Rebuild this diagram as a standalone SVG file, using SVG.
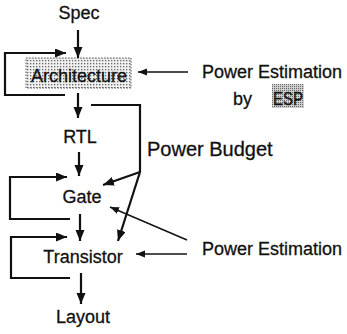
<svg xmlns="http://www.w3.org/2000/svg" width="347" height="334" viewBox="0 0 347 334">
<style>
text{font-family:"Liberation Sans",Arial,Helvetica,sans-serif;font-size:18px;fill:#111;stroke:#111;stroke-width:0.3}
.c{text-anchor:middle}
.w{fill:none;stroke:#111;stroke-width:2.2}
.t{fill:none;stroke:#111;stroke-width:1.4}
</style>
<defs>
<marker id="ah" markerUnits="userSpaceOnUse" markerWidth="12" markerHeight="10" refX="11" refY="4.5" orient="auto">
<path d="M0,0 L11,4.5 L0,9 z" fill="#111"/>
</marker>
<marker id="as" markerUnits="userSpaceOnUse" markerWidth="10" markerHeight="8" refX="9" refY="3.5" orient="auto">
<path d="M0,0 L9,3.5 L0,7 z" fill="#111"/>
</marker>
<pattern id="dots" width="3" height="3" patternUnits="userSpaceOnUse">
<rect width="3" height="3" fill="#f0f0f0"/>
<rect x="0" y="0" width="1.3" height="1.3" fill="#666"/>
</pattern>
<pattern id="dense" width="2" height="2" patternUnits="userSpaceOnUse">
<rect width="2" height="2" fill="#cfcfcf"/>
<rect x="0" y="0" width="1" height="1" fill="#666"/>
</pattern>
</defs>
<g id="spec"><text class="c" x="79" y="19">Spec</text></g>
<g id="architecture">
<rect x="26" y="58" width="105" height="30" fill="url(#dots)" stroke="#555" stroke-width="1" stroke-dasharray="1.5,1.5"/>
<text class="c" x="79" y="82">Architecture</text>
</g>
<g id="rtl"><text class="c" x="80" y="143">RTL</text></g>
<g id="gate"><text class="c" x="82" y="203">Gate</text></g>
<g id="transistor"><text class="c" x="83" y="263">Transistor</text></g>
<g id="layout"><text class="c" x="83" y="323">Layout</text></g>
<g id="power-estimation-esp">
<text x="202" y="78">Power Estimation</text>
<text x="233" y="105">by</text>
<rect x="272" y="84" width="32" height="24" fill="url(#dense)"/>
<text x="273" y="105" textLength="30" lengthAdjust="spacingAndGlyphs">ESP</text>
</g>
<g id="power-budget"><text x="147" y="156" style="font-size:20px">Power Budget</text></g>
<g id="power-estimation"><text x="202" y="255">Power Estimation</text></g>
<g id="connectors">
<line class="w" x1="78" y1="30" x2="78" y2="58" marker-end="url(#ah)"/>
<path class="w" d="M65,95 H5 V53 H66" marker-end="url(#ah)"/>
<line class="w" x1="78" y1="93" x2="78" y2="118" marker-end="url(#ah)"/>
<line class="w" x1="79" y1="152" x2="79" y2="176" marker-end="url(#ah)"/>
<path class="w" d="M70,219 H10 V177 H67" marker-end="url(#ah)"/>
<line class="w" x1="80" y1="214" x2="80" y2="241" marker-end="url(#ah)"/>
<path class="w" d="M70,278 H11 V237 H67" marker-end="url(#ah)"/>
<line class="w" x1="81" y1="273" x2="81" y2="304" marker-end="url(#ah)"/>
<path class="w" d="M91,105 H140 V172"/>
<line class="w" x1="140" y1="172" x2="103" y2="185" marker-end="url(#ah)"/>
<line class="w" x1="140" y1="172" x2="118" y2="241" marker-end="url(#ah)"/>
<line class="t" x1="188" y1="72" x2="138" y2="72" marker-end="url(#as)"/>
<line class="t" x1="187" y1="240" x2="110" y2="207" marker-end="url(#as)"/>
<line class="t" x1="187" y1="254" x2="136" y2="254" marker-end="url(#as)"/>
</g>
</svg>
